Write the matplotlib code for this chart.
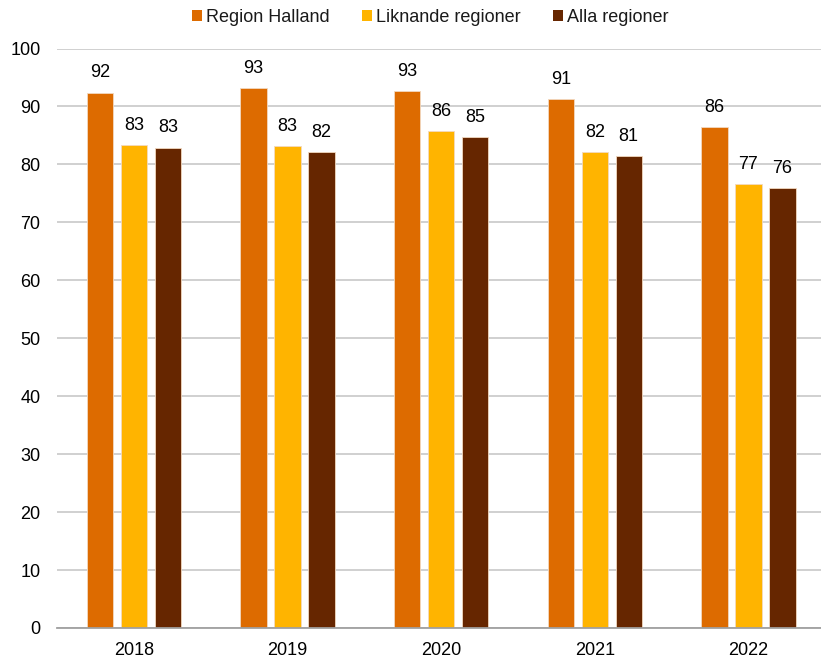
import matplotlib
matplotlib.use("Agg")
import matplotlib.pyplot as plt
import numpy as np

years = ["2018", "2019", "2020", "2021", "2022"]
series_names = ["Region Halland", "Liknande regioner", "Alla regioner"]
region_halland = [92.4, 93.1, 92.7, 91.3, 86.4]
liknande = [83.4, 83.1, 85.7, 82.2, 76.6]
alla = [82.9, 82.2, 84.7, 81.4, 75.9]
colors = ["#DD6B00", "#FFB400", "#662600"]

plt.rcParams['font.family'] = ['Liberation Sans', 'DejaVu Sans']

fig = plt.figure(figsize=(8.21, 6.59), dpi=100)
W, H = 821, 659
ax = fig.add_axes([57.2 / W, 31 / H, 768 / W, 579.5 / H])

x = np.arange(len(years))
width = 0.172
offset = 0.221
for i, (vals, name, c) in enumerate(zip([region_halland, liknande, alla], series_names, colors)):
    bars = ax.bar(x + (i - 1) * offset, vals, width, color=c, label=name,
                  edgecolor="#F2D9C0", linewidth=0.6, zorder=3)
    for b, v in zip(bars, vals):
        ax.annotate(f"{v:.0f}", (b.get_x() + b.get_width() / 2, v),
                    xytext=(0, 8), textcoords="offset points",
                    ha="center", va="bottom", fontsize=13, color="#000000")

ax.set_xlim(-0.5, 4.5)
ax.set_ylim(0, 100)
ax.set_yticks(range(0, 101, 10))
ax.set_xticks(x)
ax.set_xticklabels(years)
ax.tick_params(axis="both", length=0, labelsize=13, colors="#000000")
ax.tick_params(axis="y", pad=12)
ax.tick_params(axis="x", pad=10)
ax.grid(axis="y", color="#C8C8C8", linewidth=1.2, zorder=0)
for s in ["top", "right", "left"]:
    ax.spines[s].set_visible(False)
ax.spines["bottom"].set_color("#A0A0A0")
ax.spines["bottom"].set_linewidth(1.3)
ax.spines["bottom"].set_zorder(4)

leg = fig.legend(loc="center", bbox_to_anchor=(430 / W, 1 - 17 / H), ncol=3,
                 frameon=False, fontsize=13, handlelength=0.55, handleheight=0.55,
                 handletextpad=0.22, columnspacing=1.8)
for h in leg.legend_handles:
    h.set_edgecolor("none")
for t in leg.get_texts():
    t.set_color("#1A1A1A")

fig.savefig("out.png", dpi=100)
